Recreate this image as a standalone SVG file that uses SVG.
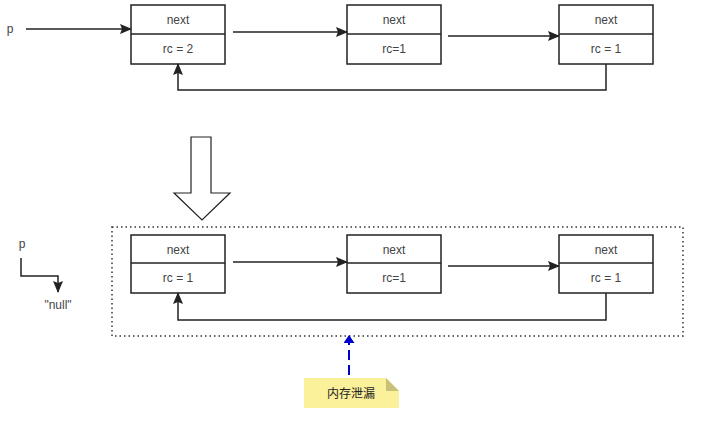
<svg xmlns="http://www.w3.org/2000/svg" width="701" height="422" viewBox="0 0 701 422">
<defs>
<marker id="ah" markerWidth="12" markerHeight="10" refX="11" refY="5" orient="auto" markerUnits="userSpaceOnUse">
<path d="M0,0 L12,5 L0,10 L2,5 Z" fill="#222"/>
</marker>
<marker id="ahb" markerWidth="8" markerHeight="11" refX="7" refY="5.5" orient="auto" markerUnits="userSpaceOnUse">
<path d="M0,0 L8,5.5 L0,11 Z" fill="#0000cc"/>
</marker>
<style>
.box{fill:#fff;stroke:#222;stroke-width:1.5}
.t{font-family:"Liberation Sans",Arial,sans-serif;font-size:12px;fill:#444;text-anchor:middle;dominant-baseline:central}
.c{fill:none;stroke:#222;stroke-width:1.5}
</style>
</defs>
<rect width="701" height="422" fill="#fff"/>
<text class="t" x="10" y="29">p</text>
<g id="n1"><rect class="box" x="131" y="5" width="94" height="59"/><line class="c" x1="131" y1="34" x2="225" y2="34"/><text class="t" x="178" y="20">next</text><text class="t" x="178" y="49">rc = 2</text></g>
<g id="n2"><rect class="box" x="347" y="5" width="94" height="59"/><line class="c" x1="347" y1="34" x2="441" y2="34"/><text class="t" x="394" y="20">next</text><text class="t" x="394" y="49">rc=1</text></g>
<g id="n3"><rect class="box" x="559" y="5" width="94" height="59"/><line class="c" x1="559" y1="34" x2="653" y2="34"/><text class="t" x="606" y="20">next</text><text class="t" x="606" y="49">rc = 1</text></g>
<g id="bigarrow"><path d="M191,137 L211,137 L211,193 L230,193 L202,220 L174,193 L191,193 Z" fill="#fff" stroke="#222" stroke-width="1.2"/></g>
<rect id="frame" x="112" y="227" width="571" height="109" fill="none" stroke="#333" stroke-width="1.5" stroke-dasharray="1.5,3"/>
<text class="t" x="22" y="244">p</text>
<text class="t" x="58" y="305">"null"</text>
<g id="m1"><rect class="box" x="131" y="235" width="94" height="58"/><line class="c" x1="131" y1="263" x2="225" y2="263"/><text class="t" x="178" y="250">next</text><text class="t" x="178" y="278">rc = 1</text></g>
<g id="m2"><rect class="box" x="347" y="235" width="94" height="58"/><line class="c" x1="347" y1="263" x2="441" y2="263"/><text class="t" x="394" y="250">next</text><text class="t" x="394" y="278">rc=1</text></g>
<g id="m3"><rect class="box" x="559" y="235" width="94" height="58"/><line class="c" x1="559" y1="263" x2="653" y2="263"/><text class="t" x="606" y="250">next</text><text class="t" x="606" y="278">rc = 1</text></g>
<g id="note"><path d="M304,378 L386,378 L399,391 L399,408 L304,408 Z" fill="#fbf19a"/><path d="M386,378 L399,391 L386,391 Z" fill="#c9c07a"/><text class="t" x="351" y="394" style="font-family:'Liberation Sans','Noto Sans CJK SC',sans-serif;fill:#222">内存泄漏</text></g>
<g id="connectors">
<line class="c" x1="26" y1="29" x2="131" y2="29" marker-end="url(#ah)"/>
<line class="c" x1="233" y1="32" x2="347" y2="32" marker-end="url(#ah)"/>
<line class="c" x1="448" y1="36" x2="559" y2="36" marker-end="url(#ah)"/>
<polyline class="c" points="606,64 606,90 178,90 178,64" marker-end="url(#ah)"/>
<polyline class="c" points="21,258 21,276 58,276 58,292" marker-end="url(#ah)"/>
<line class="c" x1="233" y1="262" x2="347" y2="262" marker-end="url(#ah)"/>
<line class="c" x1="448" y1="266" x2="559" y2="266" marker-end="url(#ah)"/>
<polyline class="c" points="606,293 606,320 178,320 178,293" marker-end="url(#ah)"/>
<line x1="349" y1="375" x2="349" y2="336" stroke="#0000cc" stroke-width="2" stroke-dasharray="10,5" marker-end="url(#ahb)"/>
</g>
</svg>
